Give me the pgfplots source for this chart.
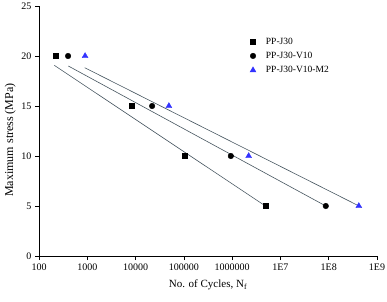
\documentclass[border=0pt]{standalone}
\usepackage{pgfplots}
\pgfplotsset{compat=1.18}
\usepackage{fontspec}
\setmainfont{Liberation Serif}
\definecolor{fitc}{RGB}{70,85,95}
\definecolor{triblue}{RGB}{50,50,255}
\begin{document}
\begin{tikzpicture}
\begin{axis}[
  scale only axis, width=338pt, height=250pt,
  xmode=log, log basis x=10,
  xmin=100, xmax=1e9, ymin=0, ymax=25,
  axis x line=bottom, axis y line=left,
  axis line style={-, line width=0.8pt},
  tick align=outside,
  major tick length=4pt, minor tick length=2pt,
  tick style={black, line width=0.6pt},
  xtick={1e2,1e3,1e4,1e5,1e6,1e7,1e8,1e9},
  xticklabels={100,1000,10000,100000,1000000,1E7,1E8,1E9},
  ytick={0,5,10,15,20,25},
  /pgf/number format/assume math mode=true,
  tick label style={font=\fontsize{10}{11}\selectfont},
  xlabel={No. of Cycles, N$_\mathrm{f}$},
  ylabel={Maximum stress (MPa)},
  xlabel style={font=\fontsize{11}{12}\selectfont, yshift=-3pt},
  ylabel style={font=\fontsize{12}{13}\selectfont, yshift=-1pt, xshift=-9pt},
  legend style={draw=none, fill=none, at={(0.615,0.89)}, anchor=north west,
    font=\fontsize{9.5}{10.5}\selectfont, row sep=2.5pt, legend cell align=left,
    /tikz/every odd column/.append style={column sep=8pt}},
  clip=false,
]
\addplot[only marks, mark=square*, mark size=2.6pt, black] coordinates {
  (220,20) (8300,15) (105000,10) (4.9e6,5)};
\addlegendentry{PP-J30}
\addplot[only marks, mark=*, mark size=2.8pt, black] coordinates {
  (400,20) (22000,15) (9.4e5,10) (8.7e7,5)};
\addlegendentry{PP-J30-V10}
\addplot[only marks, mark=triangle*, mark size=3.4pt, triblue, mark options={draw=triblue, fill=triblue}] coordinates {
  (900,20) (49000,15) (2.2e6,10) (4.2e8,5)};
\addlegendentry{PP-J30-V10-M2}
\addplot[forget plot, fitc, line width=0.6pt] coordinates {(207,19.07) (4.9e6,5.0)};
\addplot[forget plot, fitc, line width=0.6pt] coordinates {(405,19.0) (8.7e7,5.0)};
\addplot[forget plot, fitc, line width=0.6pt] coordinates {(884,18.83) (4.8e8,4.87)};
\end{axis}
\pgfresetboundingbox
\useasboundingbox (-39pt,-45pt) rectangle (348pt,256pt);
\end{tikzpicture}
\end{document}
